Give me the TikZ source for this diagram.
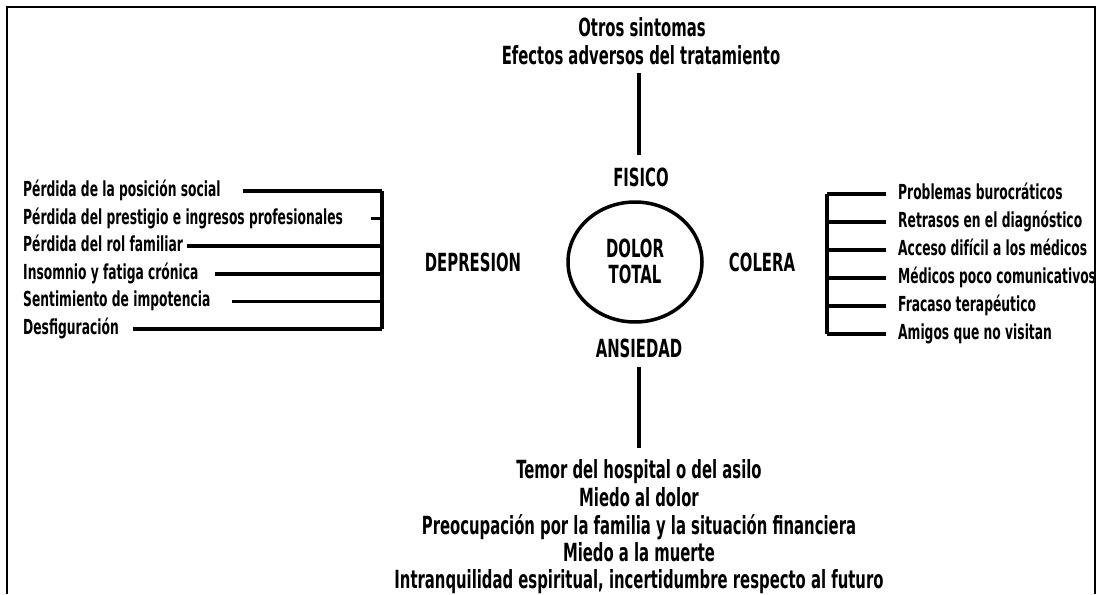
\documentclass[tikz,border=0pt]{standalone}
\usepackage{fontspec}
\setmainfont{DejaVu Sans Condensed}[FakeStretch=0.66]
\usetikzlibrary{shapes.geometric,calc}
\begin{document}
\begin{tikzpicture}[x=1pt,y=-1pt,
  item/.style={font=\fontsize{20.7}{20.7}\selectfont\bfseries, inner sep=0pt, text height=15.1pt, text depth=0pt, anchor=west},
  big/.style={font=\fontsize{25}{25}\selectfont\bfseries, inner sep=0pt, text height=18.2pt, text depth=0pt},
  conn/.style={line width=3.5pt},
  vconn/.style={line width=4.5pt},
  frame/.style={line width=2.5pt}]
\useasboundingbox (0,0) rectangle (1097,594);
\draw[frame] (7,594) -- (7,7) -- (1095,7) -- (1095,594);

% top
\node[big] (otros) at (642,27) {Otros sintomas};
\node[big] (efec) at (641,55) {Efectos adversos del tratamiento};
\coordinate (ft) at (639,73);
\coordinate (fb) at (639,155);
\draw[vconn] (ft) -- (fb);
\node[big] (fis) at (641,177) {FISICO};

% centre
\node[ellipse, draw, line width=3.5pt, minimum width=134pt, minimum height=120pt, inner sep=0pt] (c) at (635,262) {};
\node[big] (dolor) at (635,248) {DOLOR};
\node[big] (total) at (635,274) {TOTAL};
\node[big] (dep) at (473,262) {DEPRESION};
\node[big] (col) at (762,262) {COLERA};
\node[big] (ans) at (639,348) {ANSIEDAD};

% bottom
\coordinate (bt) at (639,367);
\coordinate (bb) at (639,448);
\draw[vconn] (bt) -- (bb);
\node[big] (b1) at (639,469) {Temor del hospital o del asilo};
\node[big] (b2) at (639,497) {Miedo al dolor};
\node[big] (b3) at (639,525) {Preocupación por la familia y la situación financiera};
\node[big] (b4) at (639,552.5) {Miedo a la muerte};
\node[big] (b5) at (639,579.5) {Intranquilidad espiritual, incertidumbre respecto al futuro};

% left list
\node[item] (l1) at (23,189) {Pérdida de la posición social};
\node[item] (l2) at (23,216.6) {Pérdida del prestigio e ingresos profesionales};
\node[item] (l3) at (23,244.2) {Pérdida del rol familiar};
\node[item] (l4) at (23,271.8) {Insomnio y fatiga crónica};
\node[item] (l5) at (23,299.4) {Sentimiento de impotencia};
\node[item] (l6) at (23,327) {Desfiguración};
\coordinate (Lt) at (382,191);
\coordinate (Lb) at (382,329);
\draw[vconn] (Lt) -- (Lb);
\draw[conn] ($(l1.east)+(22,2)$) -- ($(l1.east -| Lt)+(0,2)$);
\draw[conn] ($(l2.east)+(28,2)$) -- ($(l2.east -| Lt)+(0,2)$);
\draw[conn] ($(l3.east)+(4,2)$) -- ($(l3.east -| Lt)+(0,2)$);
\draw[conn] ($(l4.east)+(16,2)$) -- ($(l4.east -| Lt)+(0,2)$);
\draw[conn] ($(l5.east)+(21,2)$) -- ($(l5.east -| Lt)+(0,2)$);
\draw[conn] ($(l6.east)+(14,2)$) -- ($(l6.east -| Lt)+(0,2)$);

% right list
\node[item] (r1) at (898,192) {Problemas burocráticos};
\node[item] (r2) at (898,220) {Retrasos en el diagnóstico};
\node[item] (r3) at (898,248) {Acceso difícil a los médicos};
\node[item] (r4) at (898,276) {Médicos poco comunicativos};
\node[item] (r5) at (898,304) {Fracaso terapéutico};
\node[item] (r6) at (898,332) {Amigos que no visitan};
\coordinate (Rt) at (827,194);
\coordinate (Rb) at (827,334);
\draw[vconn] (Rt) -- (Rb);
\foreach \n in {r1,r2,r3,r4,r5,r6}{
  \draw[conn] ($(\n.west -| Rt)+(0,2)$) -- ($(\n.west)+(-12,2)$);
}
\end{tikzpicture}
\end{document}
